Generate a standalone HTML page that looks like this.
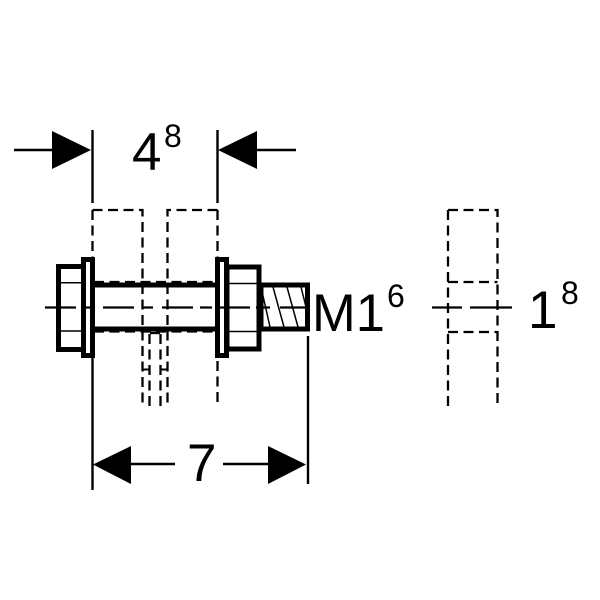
<!DOCTYPE html>
<html><head><meta charset="utf-8">
<style>
html,body{margin:0;padding:0;background:#fff}
svg{display:block}
text{font-family:"Liberation Sans",sans-serif;fill:#000}
</style></head>
<body>
<svg width="600" height="600" viewBox="0 0 600 600" xmlns="http://www.w3.org/2000/svg">
<rect width="600" height="600" fill="#fff"/>
<!-- dashed outlines -->
<g fill="none" stroke="#000" stroke-width="2.300" stroke-dasharray="10 5.500">
<path d="M92.500 210H142.500V407"/>
<path d="M217.500 210H167.500V407"/>
<path d="M92.500 210V257"/>
<path d="M217.500 210V257"/>
<path d="M217.500 361V407"/>
<path d="M149.500 334V407"/>
<path d="M160.500 334V407"/>
<path d="M448 210H497.500V407"/>
<path d="M448 210V407"/>
<path d="M448 282H497.500"/>
<path d="M448 332H497.500"/>
<path d="M150 333H160"/>
</g>
<path d="M142 369.500H150M168 369.500H160" stroke="#000" stroke-width="2"/>
<!-- dimension lines -->
<g stroke="#000" stroke-width="2.400" fill="none">
<path d="M92.500 130V203M217.500 130V203"/>
<path d="M92.500 357V490M308 336V484"/>
<path d="M14 150H54M256 150H296"/>
<path d="M130 464H175M223 464H270"/>
</g>
<g fill="#000">
<path d="M52 131L91 150L52 169Z"/>
<path d="M257 131L218 150L257 169Z"/>
<path d="M131 446L93 464.500L131 484Z"/>
<path d="M268 446L306 464.500L268 484Z"/>
</g>
<!-- bolt -->
<g fill="#fff" stroke="#000" stroke-width="5">
<rect x="58.500" y="266.500" width="25" height="83"/>
<rect x="83.500" y="259.500" width="9" height="96"/>
<rect x="217.500" y="259.500" width="9" height="96"/>
<rect x="227" y="267" width="32" height="82"/>
<rect x="261" y="285" width="46.500" height="44"/>
</g>
<path d="M94 285H215M94 329H215" stroke="#000" stroke-width="5"/>
<path d="M94 282H215M94 331.500H215" stroke="#000" stroke-width="2.200" stroke-dasharray="10 5.500"/>
<g stroke="#000" stroke-width="1.500" fill="none">
<path d="M60 282.800H81M60 331H81M229 283.500H257M229 331.500H257"/>
<path d="M261 287L270 327M273 287L284 327M287 287L298 327M301 287L307 311"/>
</g>
<!-- center lines -->
<g stroke="#000" stroke-width="2.200" fill="none">
<path d="M45 307.500H76M82 307.500H95M103 307.500H134M142 307.500H153M162 307.500H193M200 307.500H212M220 307.500H250M256 307.500H270M280 307.500H307"/>
<path d="M432 307.500H462M470 307.500H490M490 307.500H512"/>
</g>
<!-- labels -->
<text x="132" y="170" font-size="53">4</text>
<text x="164" y="147" font-size="32">8</text>
<text x="187" y="481" font-size="53">7</text>
<text x="312" y="331" font-size="52.500">M1</text>
<text x="387" y="307" font-size="32">6</text>
<text x="528" y="328" font-size="53">1</text>
<text x="561" y="304" font-size="32">8</text>
</svg>
</body></html>
